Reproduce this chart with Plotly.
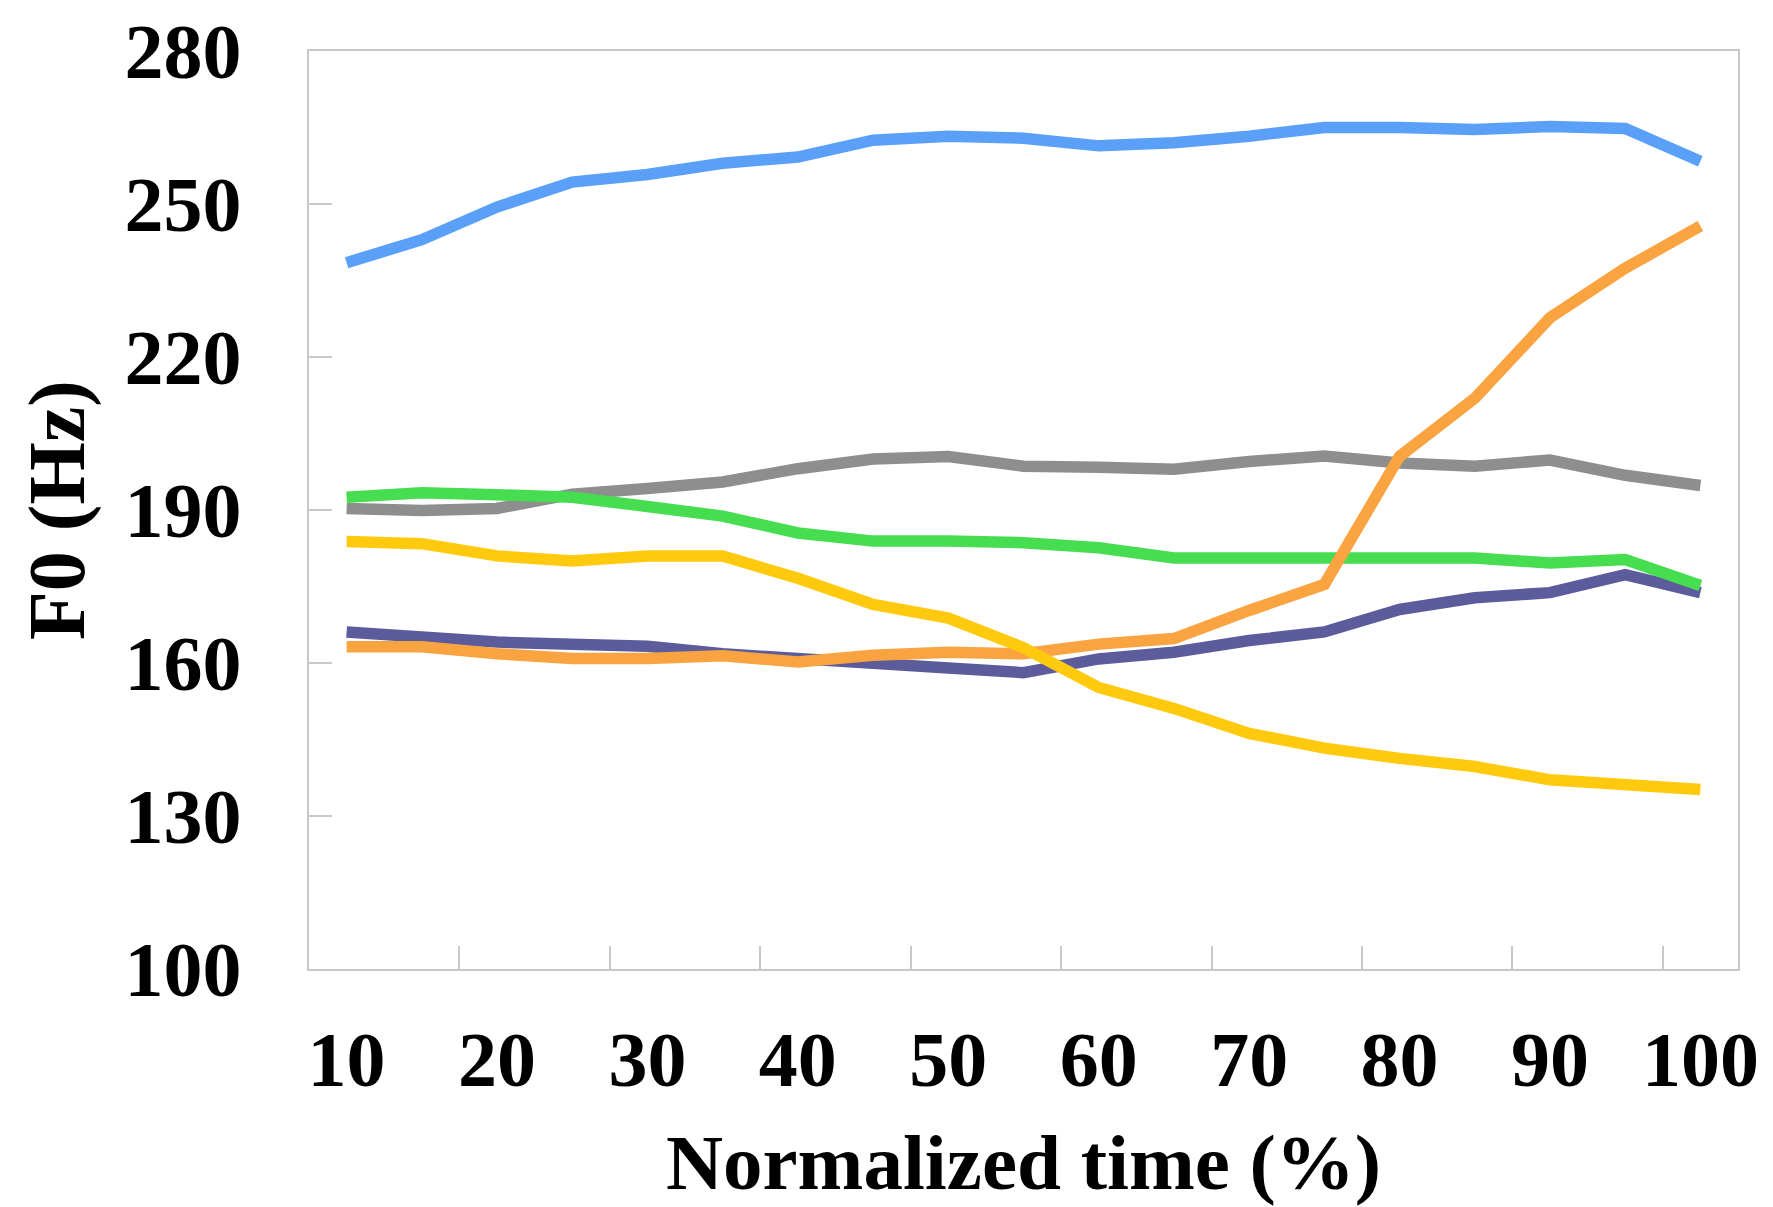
import plotly.graph_objects as go

categories = ["10", "15", "20", "25", "30", "35", "40", "45", "50", "55",
              "60", "65", "70", "75", "80", "85", "90", "95", "100"]

blue = [238.5, 243.0, 249.4, 254.3, 255.8, 258.0, 259.2, 262.5, 263.3, 262.9,
        261.4, 262.0, 263.3, 265.0, 265.0, 264.6, 265.2, 264.8, 258.4]
gray = [190.3, 189.9, 190.3, 193.1, 194.2, 195.5, 198.1, 200.0, 200.5, 198.6,
        198.4, 198.0, 199.5, 200.6, 199.2, 198.6, 199.8, 196.8, 194.8]
purple = [166.1, 165.1, 164.1, 163.7, 163.3, 161.8, 160.7, 159.8, 159.0, 158.1,
          160.8, 162.1, 164.4, 166.1, 170.5, 172.8, 173.8, 177.3, 173.8]
green = [192.5, 193.4, 193.0, 192.5, 190.7, 188.8, 185.5, 183.9, 183.9, 183.6,
         182.6, 180.6, 180.6, 180.6, 180.6, 180.6, 179.6, 180.3, 175.2]
orange = [163.2, 163.2, 161.8, 160.9, 160.9, 161.4, 160.2, 161.5, 162.1, 161.8,
          163.7, 164.8, 170.3, 175.4, 200.5, 211.9, 227.7, 237.4, 245.7]
yellow = [183.8, 183.4, 181.0, 180.0, 181.0, 181.0, 176.6, 171.5, 168.8, 163.0,
          155.2, 151.1, 146.2, 143.3, 141.3, 139.7, 137.1, 136.1, 135.2]

series = [
    ("blue", blue, "#5AA0F8"),
    ("gray", gray, "#8E8E8E"),
    ("purple", purple, "#5C5C9C"),
    ("green", green, "#46DD50"),
    ("orange", orange, "#FAA341"),
    ("yellow", yellow, "#FFC90E"),
]

x_title = "Normalized time (%)"
y_title = "F0 (Hz)"

FONT = "Liberation Serif"

fig = go.Figure()
for name, vals, col in series:
    fig.add_trace(go.Scatter(
        x=categories, y=vals, mode="lines", name=name,
        line=dict(color=col, width=11.5), showlegend=False,
    ))

axis_line = "#C8C8C8"
fig.update_layout(
    width=1773, height=1207,
    margin=dict(l=309, r=35, t=51, b=238),
    paper_bgcolor="white", plot_bgcolor="white",
    font=dict(family=FONT, color="black", size=78, weight="bold"),
    xaxis=dict(
        type="category",
        range=[-0.5, 18.5],
        tickmode="linear", tick0=0, dtick=2,
        tickson="boundaries", tickangle=0,
        ticks="inside", ticklen=23, tickwidth=2, tickcolor=axis_line,
        showline=True, linecolor=axis_line, linewidth=2, mirror=True,
        showgrid=False, zeroline=False, automargin=False,
        tickfont=dict(family=FONT, size=78, color="black", weight="bold"),
        ticklabelstandoff=21,
    ),
    yaxis=dict(
        range=[100, 280],
        tickmode="linear", tick0=100, dtick=30,
        ticks="inside", ticklen=23, tickwidth=2, tickcolor=axis_line,
        showline=True, linecolor=axis_line, linewidth=2, mirror=True,
        showgrid=False, zeroline=False, automargin=False,
        tickfont=dict(family=FONT, size=78, color="black", weight="bold"),
        ticklabelstandoff=50,
    ),
    annotations=[
        dict(text=x_title, xref="paper", yref="paper", x=0.5, y=0,
             xanchor="center", yanchor="middle", yshift=-193, showarrow=False,
             font=dict(family=FONT, size=79, color="black", weight="bold")),
        dict(text=y_title, xref="paper", yref="paper", x=0, y=0.5,
             xanchor="center", yanchor="middle", xshift=-252, textangle=-90,
             showarrow=False,
             font=dict(family=FONT, size=80, color="black", weight="bold")),
    ],
)

fig.write_html("out.html")
